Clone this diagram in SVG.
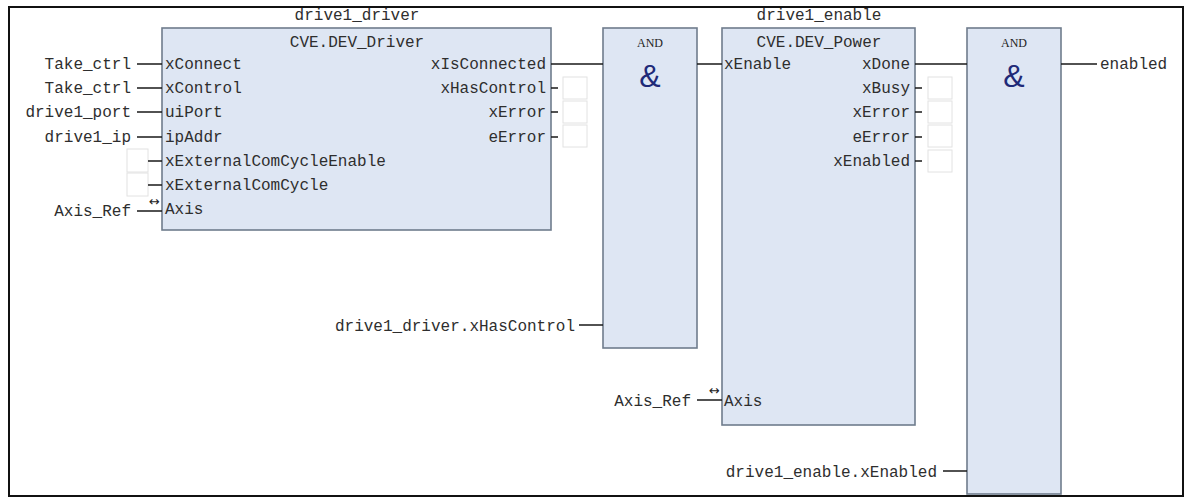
<svg xmlns="http://www.w3.org/2000/svg" width="1190" height="502" viewBox="0 0 1190 502">
<style>
  .blk{fill:#dee6f3;stroke:#6f7c8c;stroke-width:1.6}
  .t{font-family:"Liberation Mono","DejaVu Sans Mono",monospace;font-size:16px;fill:#2e2e2e}
  .r{text-anchor:end}
  .m{text-anchor:middle}
  .and{font-family:"Liberation Serif",serif;font-size:12px;fill:#222;text-anchor:middle}
  .amp{font-family:"Liberation Sans",Arial,sans-serif;font-size:32px;fill:#1f2a78;text-anchor:middle}
  .w{stroke:#1a1a1a;stroke-width:1.5;fill:none}
  .eb{fill:#ffffff;stroke:#e2e2e2;stroke-width:1}
  .sym{font-family:"DejaVu Sans",sans-serif;font-size:13px;fill:#222}
</style>
<rect x="9" y="7" width="1174" height="489" fill="#ffffff" stroke="#111" stroke-width="2"/>

<g id="drive1_driver">
  <text class="t m" x="357" y="20">drive1_driver</text>
  <rect class="blk" x="162" y="28" width="389" height="202"/>
  <text class="t m" x="357" y="47">CVE.DEV_Driver</text>
  <text class="t" x="165" y="69">xConnect</text>
  <text class="t" x="165" y="93">xControl</text>
  <text class="t" x="165" y="117">uiPort</text>
  <text class="t" x="165" y="142">ipAddr</text>
  <text class="t" x="165" y="166">xExternalComCycleEnable</text>
  <text class="t" x="165" y="190">xExternalComCycle</text>
  <text class="t" x="165" y="214">Axis</text>
  <text class="t r" x="546" y="69">xIsConnected</text>
  <text class="t r" x="546" y="93">xHasControl</text>
  <text class="t r" x="546" y="117">xError</text>
  <text class="t r" x="546" y="142">eError</text>
</g>

<g id="and1">
  <rect class="blk" x="603" y="28" width="94" height="320"/>
  <text class="and" x="650" y="47">AND</text>
  <text class="amp" x="650" y="87">&amp;</text>
</g>

<g id="drive1_enable">
  <text class="t m" x="819" y="20">drive1_enable</text>
  <rect class="blk" x="722" y="28" width="193" height="397"/>
  <text class="t m" x="819" y="47">CVE.DEV_Power</text>
  <text class="t" x="724" y="69">xEnable</text>
  <text class="t" x="724" y="406">Axis</text>
  <text class="t r" x="910" y="69">xDone</text>
  <text class="t r" x="910" y="93">xBusy</text>
  <text class="t r" x="910" y="117">xError</text>
  <text class="t r" x="910" y="142">eError</text>
  <text class="t r" x="910" y="166">xEnabled</text>
</g>

<g id="and2">
  <rect class="blk" x="967" y="28" width="94" height="466"/>
  <text class="and" x="1014" y="47">AND</text>
  <text class="amp" x="1014" y="87">&amp;</text>
</g>

<g id="inputs">
  <text class="t r" x="131" y="69">Take_ctrl</text>
  <text class="t r" x="131" y="93">Take_ctrl</text>
  <text class="t r" x="131" y="117">drive1_port</text>
  <text class="t r" x="131" y="142">drive1_ip</text>
  <text class="t r" x="131" y="216">Axis_Ref</text>
  <text class="t r" x="575" y="331">drive1_driver.xHasControl</text>
  <text class="t r" x="691" y="406">Axis_Ref</text>
  <text class="t r" x="937" y="477">drive1_enable.xEnabled</text>
  <text class="t" x="1100" y="69">enabled</text>
</g>

<g id="empty-slots">
  <rect class="eb" x="127" y="149" width="21" height="23"/>
  <rect class="eb" x="127" y="173" width="21" height="23"/>
  <rect class="eb" x="563" y="77" width="24" height="22"/>
  <rect class="eb" x="563" y="101" width="24" height="22"/>
  <rect class="eb" x="563" y="125" width="24" height="22"/>
  <rect class="eb" x="928" y="77" width="24" height="22"/>
  <rect class="eb" x="928" y="101" width="24" height="22"/>
  <rect class="eb" x="928" y="125" width="24" height="22"/>
  <rect class="eb" x="928" y="150" width="24" height="22"/>
</g>

<g id="connectors">
  <path class="w" d="M137 64H162 M137 88H162 M137 112H162 M137 137H162 M148 161H162 M148 185H162 M137 211H162"/>
  <path class="w" d="M551 64H603 M551 88H558 M551 112H558 M551 137H558"/>
  <path class="w" d="M579 325H603 M697 64H722 M697 400H722"/>
  <path class="w" d="M915 64H967 M915 88H922 M915 112H922 M915 137H922 M915 161H922"/>
  <path class="w" d="M943 471H967 M1061 64H1097"/>
  <text class="sym" x="149" y="206">↔</text>
  <text class="sym" x="709" y="395">↔</text>
</g>
</svg>
